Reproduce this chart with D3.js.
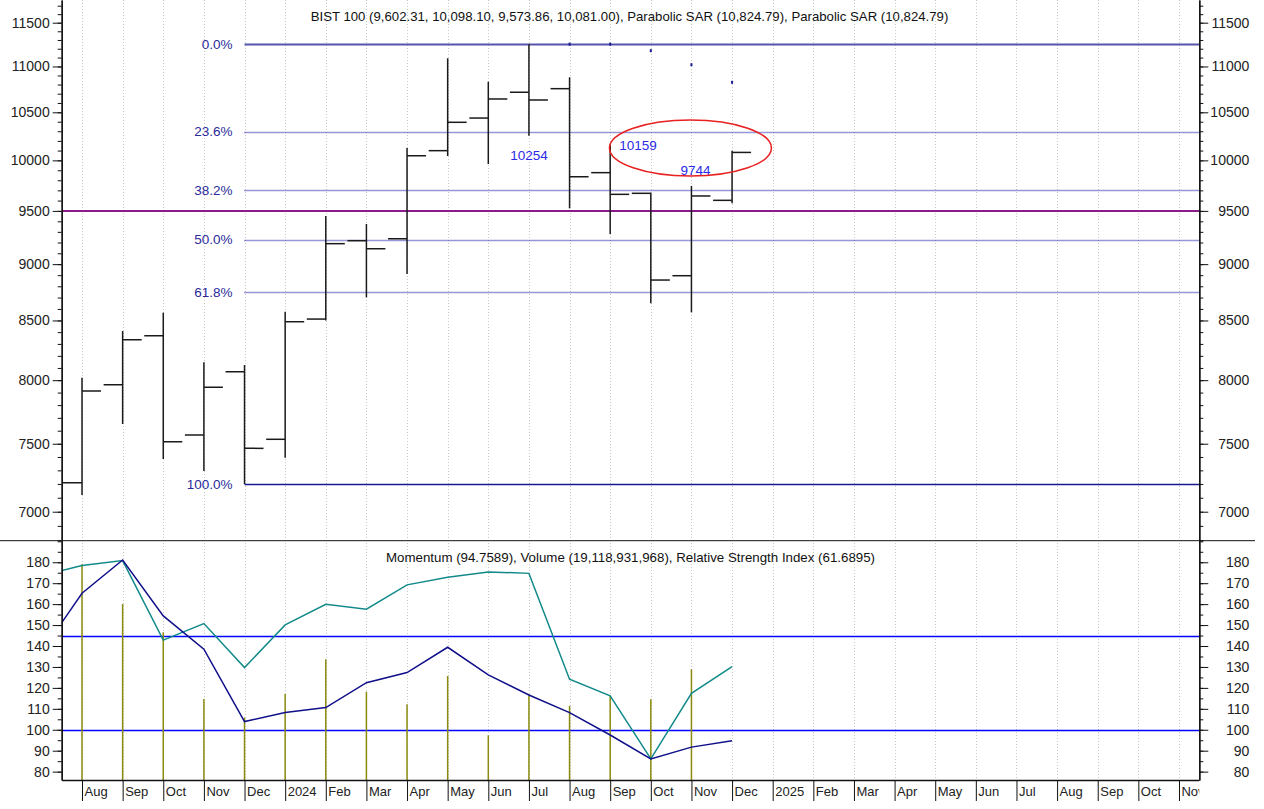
<!DOCTYPE html>
<html>
<head>
<meta charset="utf-8">
<script src="https://cdn.jsdelivr.net/npm/d3@7"></script>
<style>
body{margin:0;background:#fff;}
svg{display:block;font-family:"Liberation Sans",Arial,sans-serif;}
</style>
</head>
<body>
<svg width="1264" height="809"></svg>
<script>
"use strict";

// month slots, 0 = Aug 2023
var monthLabels=["Aug","Sep","Oct","Nov","Dec","2024","Feb","Mar","Apr","May","Jun","Jul",
	"Aug","Sep","Oct","Nov","Dec","2025","Feb","Mar","Apr","May","Jun","Jul","Aug","Sep","Oct","Nov"];

// BIST 100 monthly bars
var opens=[7209,7963,8369,7567,8069,7534,8512,9217,9235,10099,10439,10716,10755,9876,9671,8895,9602.31];
var highs=[8020,8409,8567,8146,8124,8576,9451,9374,10126,11092,10831,11252,10880,10159,9677,9744,10098.10];
var lows=[7120,7651,7385,7295,7200,7394,8500,8702,8910,10044,9963,10254,9525,9280,8649,8571,9573.86];
var closes=[7912,8335,7515,7942,7465,8489,9189,9142,10047,10394,10643,10632,9835,9661,8856,9645,10081.00];

var sarIdx=[12,13,14,15,16];
var sarValues=[11252,11252,11178,11020,10824.79];

var fibLevels=[0,23.6,38.2,50,61.8,100];
var fibHigh=11252, fibLow=7200, fibStartIdx=4;
var refLevel=9500;

var noteIdx=[11,13,15];
var noteValues=[10254,10159,9744];

// lower panel, idx -1 = Jul 2023
var lineIdx=[-1,0,1,2,3,4,5,6,7,8,9,10,11,12,13,14,15,16];
var momentum=[137,165.2,181.1,154.4,138.5,103.9,108.2,110.6,122.5,127.3,139.4,126.2,116.6,108.2,97.5,86.1,91.7,94.76];
var rsiLine=[173.7,178.4,180.8,142.8,150.7,129.7,150.1,159.9,157.6,169.2,172.8,175.4,174.7,124.1,116.2,86.1,117.4,130.1];
var volume=[179,160.1,146.6,114.7,105.8,117.1,133.7,118.2,112.2,125.7,97.4,117.0,111.5,116.2,114.6,128.9];
var bandLevels=[145,100];

var topTicks=[7000,7500,8000,8500,9000,9500,10000,10500,11000,11500];
var bottomTicks=[80,90,100,110,120,130,140,150,160,170,180];

function drawChart(){

	var svg=d3.select("svg");
	var left=61.7, right=1199.3, split=540.7, bottom=780;

	var xScale=d3.scaleLinear().domain([-0.5,27.5]).range([left,right]);
	var yTop=d3.scaleLog().domain([6797,11768]).range([split,0]);
	var yBot=d3.scaleLinear().domain([76,190.3]).range([bottom,split]);

	var defs=svg.append("defs");
	defs.append("clipPath").attr("id","clipTop")
		.append("rect").attr("x",left).attr("y",0).attr("width",right-left).attr("height",split);
	defs.append("clipPath").attr("id","clipBot")
		.append("rect").attr("x",left).attr("y",split).attr("width",right-left).attr("height",bottom-split);
	defs.append("clipPath").attr("id","clipAxis")
		.append("rect").attr("x",0).attr("y",0).attr("width",right).attr("height",809);

	// vertical grid
	svg.append("g")
		.selectAll("line")
		.data(monthLabels)
		.enter()
		.append("line")
		.attr("x1",function(d,i){return Math.round(xScale(i))+0.5;})
		.attr("x2",function(d,i){return Math.round(xScale(i))+0.5;})
		.attr("y1",0)
		.attr("y2",bottom)
		.attr("stroke","#c8c8c8")
		.attr("stroke-dasharray","1,2");

	// ---------- upper panel ----------
	var top=svg.append("g").attr("clip-path","url(#clipTop)");

	top.append("line")
		.attr("x1",left).attr("x2",right)
		.attr("y1",yTop(refLevel)).attr("y2",yTop(refLevel))
		.attr("stroke","#8b1a8b")
		.attr("stroke-width",2);

	var fibVal=function(p){return fibHigh-p/100*(fibHigh-fibLow);};
	var fibY=function(p){return Math.round(yTop(fibVal(p)))+0.5;};

	top.selectAll("line.fib")
		.data(fibLevels)
		.enter()
		.append("line")
		.attr("class","fib")
		.attr("x1",xScale(fibStartIdx)).attr("x2",right)
		.attr("y1",function(d){return fibY(d);})
		.attr("y2",function(d){return fibY(d);})
		.attr("stroke",function(d){return d==0?"#5555aa":(d==100?"#1a1a90":"#2e2eb4");})
		.attr("stroke-width",function(d){return d==0?2:(d==100?1.5:1.4);})
		.attr("stroke-dasharray",function(d){return (d==0||d==100)?null:"1,1";});

	svg.selectAll("text.fib")
		.data(fibLevels)
		.enter()
		.append("text")
		.attr("class","fib")
		.attr("x",xScale(fibStartIdx)-12)
		.attr("y",function(d){return yTop(fibVal(d));})
		.attr("dy","0.35em")
		.attr("text-anchor","end")
		.attr("font-size",13.5)
		.attr("fill","#2a2a9a")
		.text(function(d){return d.toFixed(1)+"%";});

	// OHLC bars
	var bars=top.append("g").attr("stroke","#1a1a1a").attr("stroke-width",1.5);
	bars.selectAll("line.hl")
		.data(opens)
		.enter()
		.append("line")
		.attr("x1",function(d,i){return xScale(i);})
		.attr("x2",function(d,i){return xScale(i);})
		.attr("y1",function(d,i){return yTop(highs[i]);})
		.attr("y2",function(d,i){return yTop(lows[i]);});
	bars.selectAll("line.open")
		.data(opens)
		.enter()
		.append("line")
		.attr("x1",function(d,i){return xScale(i)-19;})
		.attr("x2",function(d,i){return xScale(i);})
		.attr("y1",function(d){return yTop(d);})
		.attr("y2",function(d){return yTop(d);});
	bars.selectAll("line.close")
		.data(closes)
		.enter()
		.append("line")
		.attr("x1",function(d,i){return xScale(i);})
		.attr("x2",function(d,i){return xScale(i)+19;})
		.attr("y1",function(d){return yTop(d);})
		.attr("y2",function(d){return yTop(d);});

	// parabolic SAR
	top.selectAll("rect.sar")
		.data(sarValues)
		.enter()
		.append("rect")
		.attr("class","sar")
		.attr("x",function(d,i){return xScale(sarIdx[i])-1;})
		.attr("y",function(d){return yTop(d)-1.5;})
		.attr("width",2)
		.attr("height",3)
		.attr("fill","#1a1a90");

	// notes
	var noteDx=[0,9,4], noteDy=[20,0,-16], noteAnchor=["middle","start","middle"];
	svg.selectAll("text.note")
		.data(noteValues)
		.enter()
		.append("text")
		.attr("class","note")
		.attr("x",function(d,i){return xScale(noteIdx[i])+noteDx[i];})
		.attr("y",function(d,i){return yTop(d)+noteDy[i];})
		.attr("dy","0.35em")
		.attr("text-anchor",function(d,i){return noteAnchor[i];})
		.attr("font-size",13.5)
		.attr("fill","#2a2ae6")
		.text(function(d){return d;});

	svg.append("ellipse")
		.attr("cx",xScale(15)-1)
		.attr("cy",yTop(10126))
		.attr("rx",81)
		.attr("ry",28)
		.attr("fill","none")
		.attr("stroke","#e82020")
		.attr("stroke-width",1.5);

	svg.append("text")
		.attr("x",(left+right)/2-1)
		.attr("y",21)
		.attr("text-anchor","middle")
		.attr("font-size",13.2)
		.attr("fill","#111")
		.text("BIST 100 (9,602.31, 10,098.10, 9,573.86, 10,081.00), Parabolic SAR (10,824.79), Parabolic SAR (10,824.79)");

	// ---------- lower panel ----------
	var bot=svg.append("g").attr("clip-path","url(#clipBot)");

	bot.selectAll("line.band")
		.data(bandLevels)
		.enter()
		.append("line")
		.attr("x1",left).attr("x2",right)
		.attr("y1",function(d){return Math.round(yBot(d))+0.5;})
		.attr("y2",function(d){return Math.round(yBot(d))+0.5;})
		.attr("stroke","#0000ff")
		.attr("stroke-width",1.4);

	bot.selectAll("line.vol")
		.data(volume)
		.enter()
		.append("line")
		.attr("x1",function(d,i){return xScale(i);})
		.attr("x2",function(d,i){return xScale(i);})
		.attr("y1",bottom)
		.attr("y2",function(d){return yBot(d);})
		.attr("stroke","#8a8a10")
		.attr("stroke-width",1.5);

	var rsiPath=d3.line()
		.x(function(d,i){return xScale(lineIdx[i]);})
		.y(function(d){return yBot(d);});

	bot.append("path")
		.attr("d",rsiPath(rsiLine))
		.attr("fill","none")
		.attr("stroke","#138a8a")
		.attr("stroke-width",1.5);

	bot.append("path")
		.attr("d",rsiPath(momentum))
		.attr("fill","none")
		.attr("stroke","#10108a")
		.attr("stroke-width",1.5);

	svg.append("text")
		.attr("x",(left+right)/2)
		.attr("y",562)
		.attr("text-anchor","middle")
		.attr("font-size",13.3)
		.attr("fill","#111")
		.text("Momentum (94.7589), Volume (19,118,931,968), Relative Strength Index (61.6895)");

	// separator
	svg.append("line")
		.attr("x1",0).attr("x2",1255)
		.attr("y1",split).attr("y2",split)
		.attr("stroke","#111");

	// ---------- axes ----------
	function styleAxis(g,anchorEnd,tx){
		g.select(".domain").attr("stroke","#111").attr("stroke-width",1.3);
		g.selectAll(".tick line").attr("stroke","#111");
		g.selectAll("text").attr("font-family","Liberation Sans, Arial, sans-serif").attr("font-size",14).attr("fill","#222");
		if(anchorEnd){
			g.selectAll("text").attr("text-anchor","end").attr("x",tx);
		}
	}

	svg.append("g").attr("transform","translate("+left+",0)")
		.call(d3.axisLeft(yTop).tickValues(d3.range(6800,11800,100)).tickFormat("").tickSize(4).tickSizeOuter(0))
		.call(styleAxis);
	svg.append("g").attr("transform","translate("+left+",0)")
		.call(d3.axisLeft(yTop).tickValues(topTicks).tickFormat(d3.format("d")).tickSize(9).tickPadding(3).tickSizeOuter(0))
		.call(styleAxis);
	svg.append("g").attr("transform","translate("+right+",0)")
		.call(d3.axisRight(yTop).tickValues(d3.range(6800,11800,100)).tickFormat("").tickSize(4).tickSizeOuter(0))
		.call(styleAxis);
	svg.append("g").attr("transform","translate("+right+",0)")
		.call(d3.axisRight(yTop).tickValues(topTicks).tickFormat(d3.format("d")).tickSize(9).tickSizeOuter(0))
		.call(function(g){styleAxis(g,true,50);});

	svg.append("g").attr("transform","translate("+left+",0)")
		.call(d3.axisLeft(yBot).tickValues(d3.range(80,191,5)).tickFormat("").tickSize(4).tickSizeOuter(0))
		.call(styleAxis);
	svg.append("g").attr("transform","translate("+left+",0)")
		.call(d3.axisLeft(yBot).tickValues(bottomTicks).tickSize(9).tickPadding(3).tickSizeOuter(0))
		.call(styleAxis);
	svg.append("g").attr("transform","translate("+right+",0)")
		.call(d3.axisRight(yBot).tickValues(d3.range(80,191,5)).tickFormat("").tickSize(4).tickSizeOuter(0))
		.call(styleAxis);
	svg.append("g").attr("transform","translate("+right+",0)")
		.call(d3.axisRight(yBot).tickValues(bottomTicks).tickSize(9).tickSizeOuter(0))
		.call(function(g){styleAxis(g,true,50);});

	var xAxisG=svg.append("g")
		.attr("clip-path","url(#clipAxis)")
		.append("g")
		.attr("transform","translate(0,"+bottom+")")
		.call(d3.axisBottom(xScale).tickValues(d3.range(0,monthLabels.length))
			.tickFormat(function(i){return monthLabels[i];}).tickSize(21).tickSizeOuter(0))
		.call(styleAxis);
	xAxisG.selectAll("text")
		.attr("text-anchor","start")
		.attr("x",2)
		.attr("y",7)
		.attr("font-size",13);
}

drawChart();
</script>
</body>
</html>
